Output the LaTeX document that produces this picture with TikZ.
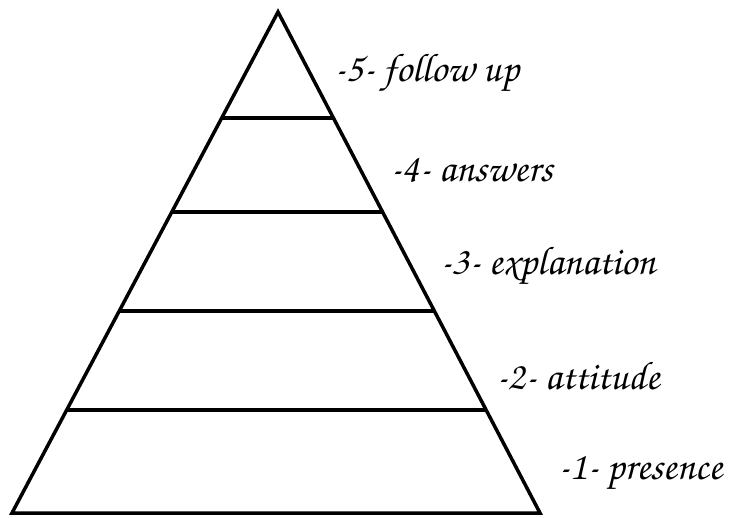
\documentclass[tikz,border=0pt]{standalone}
\usepackage[T1]{fontenc}
\usetikzlibrary{calc}
\newcommand{\scriptlabel}{\fontfamily{pzc}\fontseries{mb}\fontshape{it}\selectfont}
\begin{document}
\begin{tikzpicture}[x=1pt,y=-1pt,
  edge/.style={line width=3.5pt,line join=miter},
  levellabel/.style={anchor=west,inner sep=0pt,
                     font=\fontsize{40}{40}\scriptlabel}
]
\useasboundingbox (0,0) rectangle (730,518);
\coordinate (apex) at (278,12);
\coordinate (bl) at (12,513);
\coordinate (br) at (540,513);
\draw[edge] (apex) -- (bl) -- (br) -- cycle;
\foreach \t in {0.212,0.399,0.597,0.794} {
  \draw[edge] ($(apex)!\t!(bl)$) -- ($(apex)!\t!(br)$);
}
\node[levellabel] (l5) at (334,73) {-5- follow up};
\node[levellabel] (l4) at (390,170) {-4- answers};
\node[levellabel] (l3) at (440,266) {-3- explanation};
\node[levellabel] (l2) at (496,376) {-2- attitude};
\node[levellabel] (l1) at (558,473) {-1- presence};
\end{tikzpicture}
\end{document}
